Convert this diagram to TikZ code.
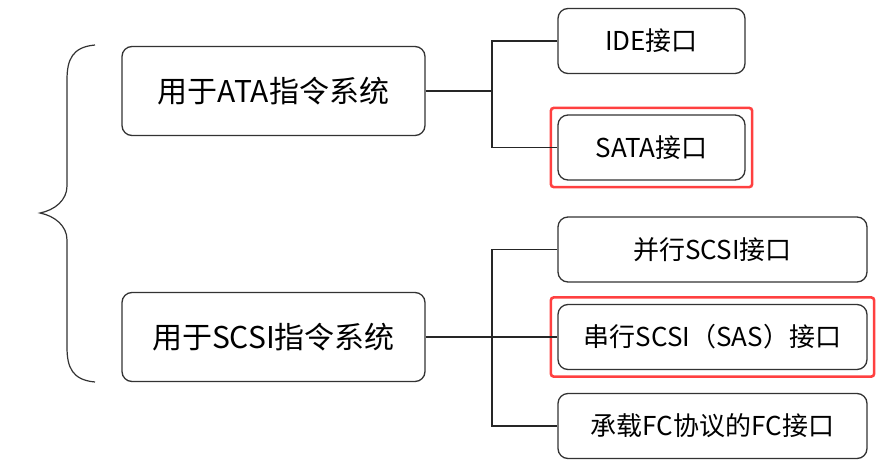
\documentclass[tikz,border=0pt]{standalone}
\usepackage{fontspec}
\setmainfont{Noto Sans CJK SC}
\usetikzlibrary{fit}
\begin{document}
\begin{tikzpicture}[x=1pt,y=-1pt,
    box/.style={draw=black!80,line width=1.3pt,rounded corners=10pt,fill=white,inner sep=0pt},
    mainbox/.style={box,minimum width=303pt,minimum height=89pt,font=\fontsize{30}{34}\selectfont},
    subbox/.style={box,minimum height=65pt,font=\fontsize{26}{30}\selectfont},
    hilite/.style={draw=red!75!white,line width=2.6pt,rounded corners=3pt,inner sep=6.5pt},
    link/.style={draw=black!85,line width=1.5pt}]
    \useasboundingbox (0,0) rectangle (889,469);
    % brace
    \draw[black!80,line width=1.2pt] (95,45) .. controls (72,47) and (67,60) .. (67,80)
        -- (67,186) .. controls (67,200) and (55,210) .. (40,213)
        .. controls (55,216) and (67,226) .. (67,240)
        -- (67,347) .. controls (67,367) and (72,380) .. (95,382);
    % left boxes
    \node[mainbox] (ata) at (273.5,91) {用于ATA指令系统};
    \node[mainbox] (scsi) at (273.5,337) {用于SCSI指令系统};
    % right boxes
    \node[subbox,minimum width=187pt] (ide) at (651.5,41) {IDE接口};
    \node[subbox,minimum width=187pt] (sata) at (651.5,147.5) {SATA接口};
    \node[subbox,minimum width=309pt] (par) at (712.5,249.5) {并行SCSI接口};
    \node[subbox,minimum width=309pt] (ser) at (712.5,337) {串行SCSI（SAS）接口};
    \node[subbox,minimum width=309pt] (fc) at (712.5,426) {承载FC协议的FC接口};
    % red marks
    \node[hilite,fit=(sata)] (sataH) {};
    \node[hilite,fit=(ser)] (serH) {};
    % connectors
    \coordinate (ja) at (492,91);
    \coordinate (jb) at (492,337);
    \draw[link] (ata.east) -- (ja);
    \draw[link] (ide.west) -| (ja) |- (sata.west);
    \draw[link] (scsi.east) -- (ser.west);
    \draw[link] (par.west) -| (jb) |- (fc.west);
\end{tikzpicture}
\end{document}
